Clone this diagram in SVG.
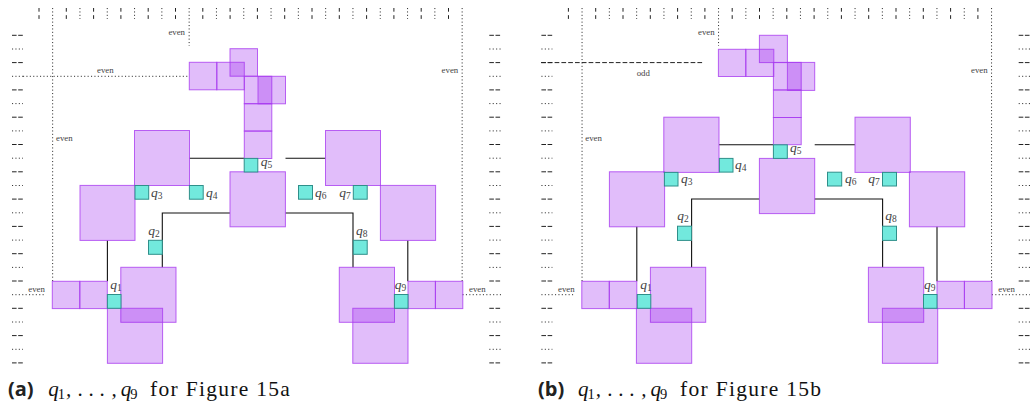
<svg xmlns="http://www.w3.org/2000/svg" xmlns:xlink="http://www.w3.org/1999/xlink" width="1030" height="408" viewBox="0 0 1030 408">
<style>
.p{fill:#9b26ee;fill-opacity:.3;stroke:#a93cf0;stroke-opacity:.8;stroke-width:1}
.t{fill:#72e9dd;stroke:#2f8f8a;stroke-width:1}
.c{fill:none;stroke:#111;stroke-width:1.1}
.dash{fill:none;stroke:#222;stroke-width:1}
.dot{fill:none;stroke:#333;stroke-width:1;stroke-dasharray:1.1 2.3}
.ld{fill:none;stroke:#222;stroke-width:1;stroke-dasharray:4.7 2.1}
.e{font:8.8px "Liberation Serif",serif;fill:#444}
.q{font:italic 13.5px "Liberation Serif",serif;fill:#444}
.s{font-style:normal;font-size:9.5px}
.m{font:italic 21px "Liberation Serif",serif;fill:#111}
.ms{font-style:normal;font-size:14.5px}
.r{font:21.5px "Liberation Serif",serif;fill:#111;letter-spacing:1.3px}
.b{font:bold 20px "Open Sans",sans-serif;fill:#222}
</style>
<defs>
<g id="ticks">
<path class="dash" stroke-dasharray="3.7 3.5" d="M39 8V19M66.3 8V19M93.6 8V19M120.9 8V19M148.2 8V19M175.5 8V19M202.8 8V19M230.1 8V19M257.4 8V19M284.7 8V19M312 8V19M339.3 8V19M366.6 8V19M393.9 8V19M421.2 8V19M448.5 8V19"/>
<path class="dot" d="M52.65 8V281M79.95 8V19M107.25 8V19M134.55 8V19M161.85 8V19M189.15 8V46M216.45 8V19M243.75 8V19M271.05 8V19M298.35 8V19M325.65 8V19M352.95 8V19M380.25 8V19M407.55 8V19M434.85 8V19M462.15 8V281"/>
<path class="dash" stroke-dasharray="4.6 1.6" d="M12 35.3H23M12 62.6H23M12 89.9H23M12 117.2H23M12 144.5H23M12 171.8H23M12 199.1H23M12 226.4H23M12 253.7H23M12 281H23M12 308.3H23M12 335.6H23M12 362.9H23M489.3 35.3H501M489.3 62.6H501M489.3 89.9H501M489.3 117.2H501M489.3 144.5H501M489.3 171.8H501M489.3 199.1H501M489.3 226.4H501M489.3 253.7H501M489.3 281H501M489.3 308.3H501M489.3 335.6H501M489.3 362.9H501"/>
<path class="dot" d="M12 49H23M12 103.6H23M12 130.9H23M12 158.2H23M12 185.5H23M12 212.8H23M12 240.1H23M12 267.4H23M12 322H23M12 349.3H23M12 76.3H23M489.3 49H501M489.3 76.3H501M489.3 103.6H501M489.3 130.9H501M489.3 158.2H501M489.3 185.5H501M489.3 212.8H501M489.3 240.1H501M489.3 267.4H501M489.3 322H501M489.3 349.3H501M12 294.7H44M462.5 294.7H501"/>
</g>
</defs>

<g id="panel-a">
<use href="#ticks"/>
<path class="dot" d="M23 76.3H189"/>
<text class="e" x="168.4" y="35.3">even</text>
<text class="e" x="97" y="72.7">even</text>
<text class="e" x="441.6" y="72.7">even</text>
<text class="e" x="56" y="140.7">even</text>
<text class="e" x="28.3" y="292">even</text>
<text class="e" x="469" y="292">even</text>
<g id="a-connectors">
<path class="c" d="M189.5 158.3H244M285.5 158.3H325.3"/>
<path class="c" d="M230 213H162.3V267.3"/>
<path class="c" d="M285.5 213H353V267.3"/>
<path class="c" d="M107.4 240.5V281.3"/>
<path class="c" d="M407.8 240.5V281.3"/>
</g>
<g id="a-cells">
<g id="a-c1"><rect class="p" x="230" y="48.7" width="27.5" height="27.5"/></g>
<g id="a-c2"><rect class="p" x="189.3" y="62.3" width="27.5" height="27.5"/></g>
<g id="a-c3"><rect class="p" x="216.8" y="62.3" width="27.5" height="27.5"/></g>
<g id="a-c4"><rect class="p" x="244.3" y="76.3" width="27.5" height="27.5"/></g>
<g id="a-c5"><rect class="p" x="258" y="76.3" width="27.5" height="27.5"/></g>
<g id="a-c6"><rect class="p" x="244.3" y="103.6" width="27.5" height="27.5"/></g>
<g id="a-c7"><rect class="p" x="244.3" y="131" width="27.5" height="27.5"/></g>
<g id="a-c8"><rect class="p" x="134.5" y="130.5" width="55" height="55"/></g>
<g id="a-c9"><rect class="p" x="80" y="185.4" width="55" height="55"/></g>
<g id="a-c10"><rect class="p" x="230" y="171.8" width="55.4" height="55"/></g>
<g id="a-c11"><rect class="p" x="325.5" y="130.5" width="55" height="55"/></g>
<g id="a-c12"><rect class="p" x="380.4" y="185.4" width="55.2" height="55"/></g>
<g id="a-c13"><rect class="p" x="120.8" y="267.3" width="55.2" height="55"/></g>
<g id="a-c14"><rect class="p" x="107.4" y="308.3" width="55.2" height="55"/></g>
<g id="a-c15"><rect class="p" x="339.3" y="267.3" width="55.2" height="55"/></g>
<g id="a-c16"><rect class="p" x="352.8" y="308.3" width="55.2" height="55"/></g>
<g id="a-c17"><rect class="p" x="52.3" y="281.3" width="27.5" height="27.3"/></g>
<g id="a-c18"><rect class="p" x="79.8" y="281.3" width="27.5" height="27.3"/></g>
<g id="a-c19"><rect class="p" x="408" y="281.3" width="27.4" height="27.3"/></g>
<g id="a-c20"><rect class="p" x="435.4" y="281.3" width="27.4" height="27.3"/></g>
</g>
<g id="a-q1"><rect class="t" x="107.4" y="294.5" width="13.6" height="13.8"/><text class="q" x="110.3" y="288.5">q<tspan class="s" dy="2">1</tspan></text></g>
<g id="a-q2"><rect class="t" x="148.5" y="240.3" width="13.8" height="14"/><text class="q" x="148.3" y="235">q<tspan class="s" dy="2">2</tspan></text></g>
<g id="a-q3"><rect class="t" x="135" y="185.5" width="13.7" height="13.7"/><text class="q" x="151" y="196.7">q<tspan class="s" dy="2">3</tspan></text></g>
<g id="a-q4"><rect class="t" x="189.4" y="185.5" width="13.8" height="13.7"/><text class="q" x="206" y="196.7">q<tspan class="s" dy="2">4</tspan></text></g>
<g id="a-q5"><rect class="t" x="244.2" y="158.4" width="13.6" height="13.6"/><text class="q" x="260.7" y="165.7">q<tspan class="s" dy="2">5</tspan></text></g>
<g id="a-q6"><rect class="t" x="298.5" y="185.5" width="14" height="13.7"/><text class="q" x="315" y="196.7">q<tspan class="s" dy="2">6</tspan></text></g>
<g id="a-q7"><rect class="t" x="353.3" y="185.5" width="13.9" height="13.7"/><text class="q" x="339.3" y="196.7">q<tspan class="s" dy="2">7</tspan></text></g>
<g id="a-q8"><rect class="t" x="353.3" y="240.3" width="13.9" height="14"/><text class="q" x="356" y="235">q<tspan class="s" dy="2">8</tspan></text></g>
<g id="a-q9"><rect class="t" x="394.4" y="294.5" width="13.6" height="13.8"/><text class="q" x="394.7" y="288.5">q<tspan class="s" dy="2">9</tspan></text></g>
<g id="a-caption">
<text class="b" x="8" y="396">(a)</text>
<text class="m" y="396"><tspan x="48.3">q</tspan><tspan class="ms" x="57.8" dy="3">1</tspan><tspan x="66" dy="-3">,</tspan><tspan x="78">.</tspan><tspan x="89">.</tspan><tspan x="100">.</tspan><tspan x="111.5">,</tspan><tspan x="120.7">q</tspan><tspan class="ms" x="130.2" dy="3">9</tspan></text>
<text class="r" x="150" y="396">for Figure 15a</text>
</g>
</g>

<g id="panel-b">
<use href="#ticks" transform="translate(529.4 0)"/>
<path class="ld" d="M541 62.6H702.7"/>
<text class="e" x="698" y="35.3">even</text>
<text class="e" x="636.7" y="76.3">odd</text>
<text class="e" x="971" y="72.7">even</text>
<text class="e" x="585.3" y="140.7">even</text>
<text class="e" x="558" y="292">even</text>
<text class="e" x="998.3" y="292">even</text>
<g id="b-connectors">
<path class="c" d="M719 144.7H773.4M814.7 144.7H855"/>
<path class="c" d="M759.4 199H691.6V267.3"/>
<path class="c" d="M814.7 199H882.6V267.3"/>
<path class="c" d="M636.8 226.8V281.3"/>
<path class="c" d="M937 226.8V281.3"/>
</g>
<g id="b-cells">
<g id="b-c1"><rect class="p" x="759.4" y="35.3" width="28" height="27.3"/></g>
<g id="b-c2"><rect class="p" x="718.4" y="49.3" width="27.4" height="27.2"/></g>
<g id="b-c3"><rect class="p" x="745.8" y="49.3" width="28" height="27.2"/></g>
<g id="b-c4"><rect class="p" x="773.4" y="62.4" width="27.8" height="27.5"/></g>
<g id="b-c5"><rect class="p" x="787.4" y="62.4" width="27.3" height="28"/></g>
<g id="b-c6"><rect class="p" x="773.4" y="90" width="27.8" height="27.5"/></g>
<g id="b-c7"><rect class="p" x="773.4" y="117.5" width="27.8" height="27.2"/></g>
<g id="b-c8"><rect class="p" x="663.8" y="117.2" width="55.2" height="55.2"/></g>
<g id="b-c9"><rect class="p" x="609.4" y="171.8" width="55.2" height="55"/></g>
<g id="b-c10"><rect class="p" x="759.4" y="158.4" width="55.3" height="55.2"/></g>
<g id="b-c11"><rect class="p" x="855" y="117.2" width="55.3" height="55.2"/></g>
<g id="b-c12"><rect class="p" x="909.4" y="171.8" width="55.3" height="55"/></g>
<g id="b-c13"><rect class="p" x="650.4" y="267.3" width="55.3" height="55"/></g>
<g id="b-c14"><rect class="p" x="636.4" y="308.3" width="55.3" height="55"/></g>
<g id="b-c15"><rect class="p" x="868.4" y="267.3" width="55.3" height="55"/></g>
<g id="b-c16"><rect class="p" x="882.4" y="308.3" width="55.3" height="55"/></g>
<g id="b-c17"><rect class="p" x="581.8" y="281.3" width="27.5" height="27.3"/></g>
<g id="b-c18"><rect class="p" x="609.3" y="281.3" width="27.5" height="27.3"/></g>
<g id="b-c19"><rect class="p" x="937" y="281.3" width="27.4" height="27.3"/></g>
<g id="b-c20"><rect class="p" x="964.4" y="281.3" width="27.6" height="27.3"/></g>
</g>
<g id="b-q1"><rect class="t" x="637.3" y="294.5" width="13.5" height="13.8"/><text class="q" x="640.3" y="288.5">q<tspan class="s" dy="2">1</tspan></text></g>
<g id="b-q2"><rect class="t" x="677.5" y="226.2" width="14" height="14.2"/><text class="q" x="677.3" y="220">q<tspan class="s" dy="2">2</tspan></text></g>
<g id="b-q3"><rect class="t" x="664.4" y="172.4" width="13.6" height="13.6"/><text class="q" x="681" y="182.7">q<tspan class="s" dy="2">3</tspan></text></g>
<g id="b-q4"><rect class="t" x="719.4" y="158.4" width="13.6" height="13.7"/><text class="q" x="735" y="168.7">q<tspan class="s" dy="2">4</tspan></text></g>
<g id="b-q5"><rect class="t" x="773.4" y="144.8" width="13.9" height="13.6"/><text class="q" x="790" y="152">q<tspan class="s" dy="2">5</tspan></text></g>
<g id="b-q6"><rect class="t" x="827.5" y="172.2" width="14.2" height="13.8"/><text class="q" x="845" y="183">q<tspan class="s" dy="2">6</tspan></text></g>
<g id="b-q7"><rect class="t" x="882.5" y="172.4" width="14" height="13.6"/><text class="q" x="868.3" y="183">q<tspan class="s" dy="2">7</tspan></text></g>
<g id="b-q8"><rect class="t" x="882.5" y="226.2" width="14" height="14.2"/><text class="q" x="885.3" y="220">q<tspan class="s" dy="2">8</tspan></text></g>
<g id="b-q9"><rect class="t" x="923.5" y="294.5" width="13.5" height="13.8"/><text class="q" x="924" y="288.5">q<tspan class="s" dy="2">9</tspan></text></g>
<g id="b-caption">
<text class="b" x="538" y="396">(b)</text>
<text class="m" y="396"><tspan x="578">q</tspan><tspan class="ms" x="587.5" dy="3">1</tspan><tspan x="595.7" dy="-3">,</tspan><tspan x="607.7">.</tspan><tspan x="618.7">.</tspan><tspan x="629.7">.</tspan><tspan x="641.2">,</tspan><tspan x="650.4">q</tspan><tspan class="ms" x="659.9" dy="3">9</tspan></text>
<text class="r" x="680" y="396">for Figure 15b</text>
</g>
</g>
</svg>
